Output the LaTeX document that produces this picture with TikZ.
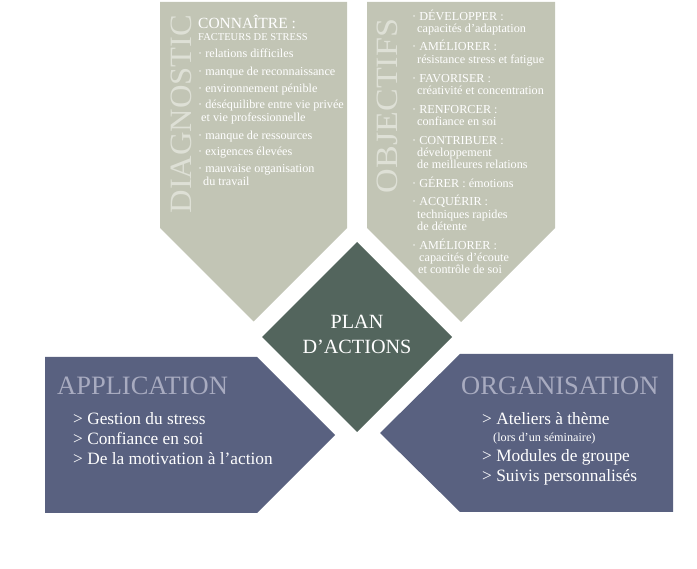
\documentclass[tikz,border=0pt]{standalone}
\usepackage{fontspec}
\setmainfont{Liberation Serif}
\definecolor{sage}{RGB}{194,197,181}
\definecolor{sagelight}{RGB}{222,224,214}
\definecolor{pine}{RGB}{83,101,93}
\definecolor{slate}{RGB}{89,97,128}
\definecolor{slatelight}{RGB}{168,171,192}
\begin{document}
\begin{tikzpicture}[line cap=round,line join=round,x=1pt,y=-1pt,
	item/.style={anchor=base west,inner sep=0pt,text=white,font=\fontsize{12.2}{13}\selectfont},
	head/.style={anchor=base west,inner sep=0pt,text=white,font=\fontsize{17.3}{18}\selectfont},
	vtitle/.style={rotate=90,inner sep=0pt,text=sagelight,font=\fontsize{31}{32}\selectfont},
	htitle/.style={anchor=base west,inner sep=0pt,text=slatelight,font=\fontsize{26.5}{27}\selectfont}]
		\useasboundingbox (0,0) rectangle (697,569);
		\fill [sage] (160,2)-- (347,2)-- (347,228)-- (253.5,321.5)-- (160,228)-- cycle;
		\fill [sage] (367,2)-- (555,2)-- (555,228)-- (461,322)-- (367,228)-- cycle;
		\fill [pine] (357,242)-- (452,337)-- (357,432)-- (262,337)-- cycle;
		\fill [slate] (45,357)-- (257,357)-- (335,435)-- (257,513)-- (45,513)-- cycle;
		\fill [slate] (673,354)-- (460,354)-- (380,433)-- (460,512)-- (673,512)-- cycle;
		\node [vtitle] (diag) at (181,114) {\scalebox{1.05}[1]{DIAGNOSTIC}};
		\node [item,font=\fontsize{15.5}{16}\selectfont] (d0) at (198,29) {CONNAÎTRE :};
		\node [item,font=\fontsize{10.5}{11}\selectfont] (d0b) at (198,41) {FACTEURS DE STRESS};
		\node [item] (d1) at (198,58) {· relations difficiles};
		\node [item] (d2) at (198,76) {· manque de reconnaissance};
		\node [item] (d3) at (198,93) {· environnement pénible};
		\node [item] (d4) at (198,109) {· déséquilibre entre vie privée};
		\node [item] (d4b) at (201,122) {et vie professionnelle};
		\node [item] (d5) at (198,140) {· manque de ressources};
		\node [item] (d6) at (198,156) {· exigences élevées};
		\node [item] (d7) at (198,173) {· mauvaise organisation};
		\node [item] (d7b) at (203,186) {du travail};
		\node [vtitle] (obj) at (387,106) {\scalebox{1.1}[1]{OBJECTIFS}};
		\node [item] (o1) at (412,21) {· DÉVELOPPER :};
		\node [item] (o1b) at (417,33) {capacités d’adaptation};
		\node [item] (o2) at (412,51) {· AMÉLIORER :};
		\node [item] (o2b) at (417,64) {résistance stress et fatigue};
		\node [item] (o3) at (412,83) {· FAVORISER :};
		\node [item] (o3b) at (417,95) {créativité et concentration};
		\node [item] (o4) at (412,114) {· RENFORCER :};
		\node [item] (o4b) at (417,126) {confiance en soi};
		\node [item] (o5) at (412,145) {· CONTRIBUER :};
		\node [item] (o5b) at (417,157) {développement};
		\node [item] (o5c) at (417,169) {de meilleures relations};
		\node [item] (o6) at (412,188) {· GÉRER : émotions};
		\node [item] (o7) at (412,206) {· ACQUÉRIR :};
		\node [item] (o7b) at (417,219) {techniques rapides};
		\node [item] (o7c) at (417,231) {de détente};
		\node [item] (o8) at (412,250) {· AMÉLIORER :};
		\node [item] (o8b) at (419,262) {capacités d’écoute};
		\node [item] (o8c) at (418,274) {et contrôle de soi};
		\node [text=white,font=\fontsize{20.2}{21}\selectfont,inner sep=0pt,anchor=base] (plan) at (357,329) {PLAN};
		\node [text=white,font=\fontsize{20.2}{21}\selectfont,inner sep=0pt,anchor=base] (actions) at (357,354) {D’ACTIONS};
		\node [htitle] (appl) at (57,395) {APPLICATION};
		\node [head] (a1) at (73,425) {> Gestion du stress};
		\node [head] (a2) at (73,445) {> Confiance en soi};
		\node [head] (a3) at (73,465) {> De la motivation à l’action};
		\node [htitle] (orga) at (461,395) {ORGANISATION};
		\node [head] (r1) at (482,425) {> Ateliers à thème};
		\node [item] (r1b) at (493,442) {(lors d’un séminaire)};
		\node [head] (r2) at (482,462) {> Modules de groupe};
		\node [head] (r3) at (482,482) {> Suivis personnalisés};
		\end{tikzpicture}
\end{document}
